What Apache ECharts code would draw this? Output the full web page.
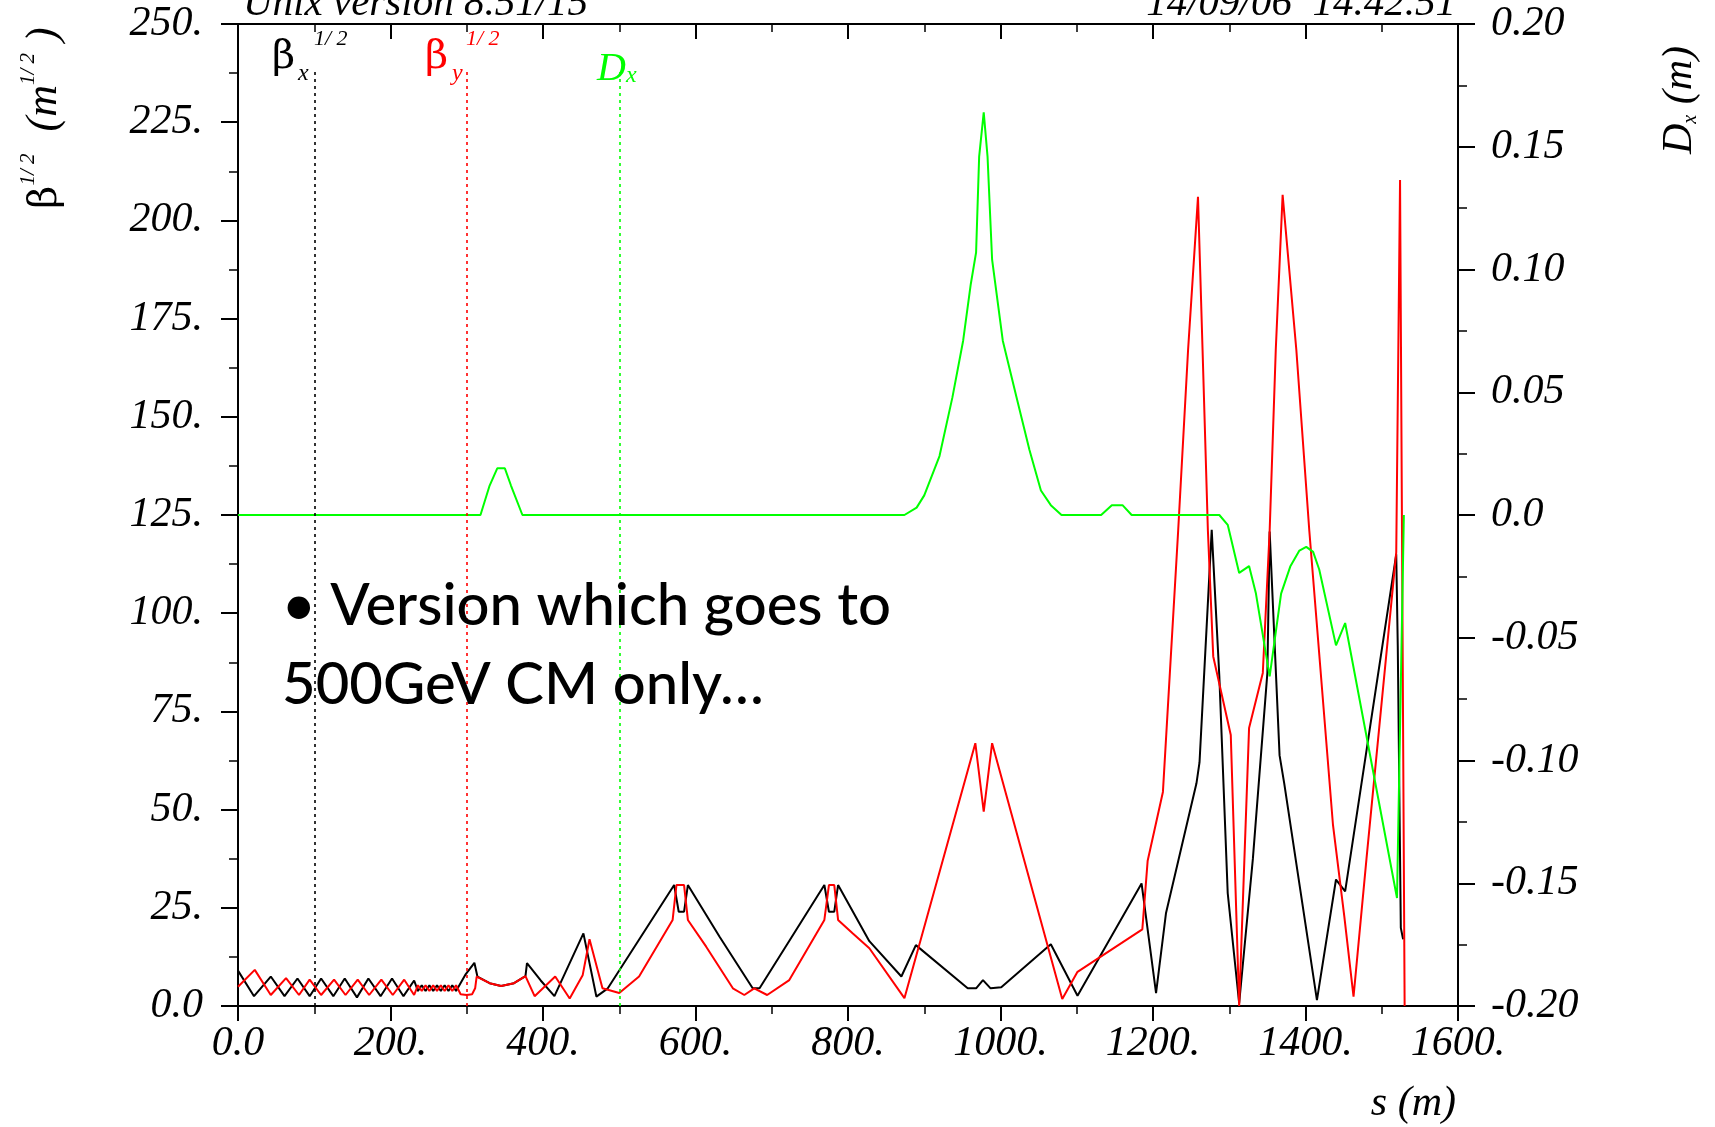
<!DOCTYPE html>
<html>
<head>
<meta charset="utf-8">
<title>beta / dispersion</title>
<script src="https://cdn.jsdelivr.net/npm/echarts@6/dist/echarts.min.js"></script>
<style>
html, body { margin: 0; padding: 0; background: #fff; }
#main { width: 1715px; height: 1127px; }
</style>
</head>
<body>
<div id="main"></div>
<script>
// beta_x^(1/2) (black)
var sBetaX = [0, 21, 43, 61, 78, 94, 109, 125, 140, 156, 171, 187, 202, 217, 231, 236, 241, 246, 251, 256,
	261, 266, 271, 276, 281, 286, 298, 310, 314, 330, 345, 362, 377, 379, 397, 415, 453, 470, 485, 528,
	572, 578, 585, 590, 632, 675, 684, 726, 769, 775, 782, 787, 828, 870, 889, 957, 968, 977, 987, 1001,
	1066, 1101, 1185, 1204, 1217, 1257, 1261, 1277, 1287, 1298, 1313, 1331, 1350, 1353, 1366, 1372, 1415, 1440, 1452, 1519,
	1521, 1525, 1528];
var betaX = [9.0, 2.5, 7.5, 2.5, 7.0, 2.5, 7.0, 2.5, 7.0, 2.2, 7.0, 2.5, 7.0, 2.5, 6.5, 3.8, 5.3, 3.8, 5.3, 3.8,
	5.3, 3.8, 5.3, 3.8, 5.3, 3.8, 7.9, 11.0, 7.5, 5.8, 5.1, 5.8, 7.6, 10.9, 6.5, 2.5, 18.5, 2.4, 4.5, 17.5,
	30.8, 24.0, 24.0, 30.8, 17.5, 4.5, 4.5, 17.5, 30.8, 24.0, 24.0, 30.8, 16.5, 7.5, 15.5, 4.5, 4.5, 6.6, 4.5, 4.8,
	15.7, 2.6, 31.2, 3.3, 23.6, 56.7, 62.0, 121.2, 83.9, 28.7, 0.7, 37.5, 84.8, 120.8, 63.8, 56.8, 1.5, 32.2, 29.2, 115.0,
	91.8, 19.9, 17.0];

// beta_y^(1/2) (red)
var sBetaY = [0, 22, 43, 63, 80, 94, 109, 126, 141, 157, 172, 188, 203, 218, 231, 236, 241, 246, 251, 256,
	261, 266, 271, 276, 281, 286, 292, 300, 307, 311, 313, 330, 345, 362, 377, 389, 416, 435, 452, 461,
	478, 500, 526, 570, 575, 585, 590, 614, 649, 664, 677, 694, 723, 769, 775, 782, 787, 806, 828, 874,
	967, 978, 989, 1081, 1101, 1186, 1193, 1213, 1233, 1246, 1259, 1265, 1272, 1279, 1302, 1313, 1326, 1344, 1353, 1361,
	1370, 1388, 1405, 1436, 1451, 1463, 1480, 1519, 1524, 1530];
var betaY = [4.9, 9.2, 2.8, 7.1, 2.8, 6.7, 2.8, 6.7, 2.8, 6.7, 2.8, 6.7, 2.8, 6.7, 2.8, 5.3, 3.8, 5.3, 3.8, 5.3,
	3.8, 5.3, 3.8, 5.3, 3.8, 5.3, 3.0, 2.8, 3.0, 4.5, 7.5, 5.8, 5.1, 5.8, 7.6, 2.5, 7.5, 1.9, 7.8, 17.0,
	4.5, 3.3, 7.5, 21.9, 30.8, 30.8, 21.9, 15.1, 4.5, 2.8, 4.5, 2.8, 6.6, 21.9, 30.8, 30.8, 21.9, 18.5, 14.7, 2.0,
	66.9, 49.5, 66.9, 1.8, 8.7, 19.5, 37.0, 54.5, 121.0, 167.0, 206.0, 167.0, 121.0, 89.0, 69.0, 0.0, 70.8, 84.8, 121.0, 167.0,
	206.5, 167.0, 121.0, 46.2, 22.6, 2.4, 37.5, 115.5, 210.3, 0.0];

// D_x (green, right axis)
var sDx = [0, 318, 330, 340, 350, 358, 373, 874, 890, 900, 920, 937, 951, 961, 968, 972, 978, 983, 989, 1003,
	1021, 1038, 1053, 1066, 1080, 1132, 1146, 1160, 1172, 1287, 1298, 1313, 1326, 1335, 1353, 1368, 1380, 1392, 1401, 1410,
	1418, 1440, 1452, 1520, 1529];
var dispX = [0, 0, 0.012, 0.019, 0.019, 0.012, 0, 0, 0.003, 0.008, 0.024, 0.048, 0.071, 0.094, 0.107, 0.146, 0.164, 0.146, 0.104, 0.071,
	0.048, 0.0265, 0.010, 0.004, 0, 0, 0.004, 0.004, 0, 0, -0.004, -0.0236, -0.0208, -0.032, -0.0657, -0.032, -0.021, -0.0145, -0.013, -0.015,
	-0.0222, -0.0531, -0.044, -0.156, 0];

var sTickLabels = ['0.0', '200.', '400.', '600.', '800.', '1000.', '1200.', '1400.', '1600.'];
var betaTickLabels = ['0.0', '25.', '50.', '75.', '100.', '125.', '150.', '175.', '200.', '225.', '250.'];
var dxTickLabels = ['-0.20', '-0.15', '-0.10', '-0.05', '0.0', '0.05', '0.10', '0.15', '0.20'];

// legend markers (dotted lines) position in s, and their top in beta units
var keyS = [100, 300, 500];
var keyTop = 237.8;

var COLOR_X = '#000000';
var COLOR_Y = '#ff0000';
var COLOR_D = '#00ff00';
var SERIF = '"Liberation Serif", "Times New Roman", serif';
var GREEK = '"DejaVu Serif", "Liberation Serif", serif';

var myChart;
var option = {};

function pairs(s, v) {
	var out = [];
	for (var i = 0; i < s.length; i++) {
		out.push([s[i], v[i]]);
	}
	return out;
}

function tickFont() {
	return { color: '#000', fontFamily: SERIF, fontStyle: 'italic', fontSize: 42 };
}

function makeXAxis(position, inside, showLabel) {
	var label = tickFont();
	label.show = showLabel;
	label.margin = 17;
	label.formatter = function(v) { return sTickLabels[Math.round(v / 200)]; };
	return {
		type: 'value', position: position, min: 0, max: 1600, interval: 200,
		axisLine: { show: true, onZero: false, lineStyle: { color: '#000', width: 2 } },
		axisTick: { show: true, inside: inside, length: 15, lineStyle: { color: '#000', width: 2 } },
		minorTick: { show: true, splitNumber: 2, length: 8, lineStyle: { color: '#000', width: 1.5 } },
		splitLine: { show: false },
		axisLabel: label
	};
}

function makeYAxis(position, min, max, interval, labels) {
	var label = tickFont();
	label.margin = position == 'left' ? 35 : 33;
	label.formatter = function(v) { return labels[Math.round((v - min) / interval)]; };
	return {
		type: 'value', position: position, min: min, max: max, interval: interval,
		axisLine: { show: true, onZero: false, lineStyle: { color: '#000', width: 2 } },
		axisTick: { show: true, inside: false, length: 17, lineStyle: { color: '#000', width: 2 } },
		minorTick: { show: true, splitNumber: 2, length: 9, lineStyle: { color: '#000', width: 1.5 } },
		splitLine: { show: false },
		axisLabel: label
	};
}

function txt(x, y, text, size, italic, color, align, family) {
	return {
		type: 'text', x: x, y: y, silent: true,
		style: {
			text: text, fill: color || '#000', fontFamily: family || SERIF, fontSize: size,
			fontStyle: italic ? 'italic' : 'normal',
			align: align || 'left', verticalAlign: 'middle'
		}
	};
}

function keyMarker(i, color) {
	return [
		{ coord: [keyS[i], 0], lineStyle: { color: color } },
		{ coord: [keyS[i], keyTop] }
	];
}

// plot frame: the axis lines run a little past the corners
function frameLine(x1, y1, x2, y2) {
	return {
		type: 'line', silent: true,
		shape: { x1: x1, y1: y1, x2: x2, y2: y2 },
		style: { stroke: '#000', lineWidth: 2 }
	};
}

function initECharts() {
	myChart = echarts.init(document.getElementById('main'), null, { renderer: 'canvas' });

	var graphics = [
		frameLine(222, 1006, 238, 1006),
		frameLine(222, 24, 238, 24),
		frameLine(1458, 1006, 1458, 1021),
		frameLine(1458, 24, 1474, 24),
		// header
		txt(243, 4, 'Unix version 8.51/15', 41, true),
		txt(1456, 4, '14/09/06  14.42.51', 41, true, '#000', 'right'),
		// legend labels
		txt(272, 58, 'β', 40, false, COLOR_X, 'left', GREEK),
		txt(298, 74, 'x', 24, true, COLOR_X),
		txt(314, 39, '1/ 2', 22, true, COLOR_X),
		txt(425, 58, 'β', 40, false, COLOR_Y, 'left', GREEK),
		txt(452, 74, 'y', 24, true, COLOR_Y),
		txt(466, 39, '1/ 2', 22, true, COLOR_Y),
		txt(597, 69, 'D', 40, true, COLOR_D),
		txt(626, 76, 'x', 24, true, COLOR_D),
		// axis names
		{
			type: 'text', x: 42, y: 118, rotation: Math.PI / 2, silent: true,
			style: {
				text: '{g|β}{s|1/ 2}{t|  (m}{s|1/ 2}{t| )}', align: 'center', verticalAlign: 'middle',
				rich: {
					g: { fontFamily: GREEK, fontSize: 40, verticalAlign: 'bottom', lineHeight: 48, fill: '#000' },
					s: { fontFamily: SERIF, fontStyle: 'italic', fontSize: 21, verticalAlign: 'top', lineHeight: 48, fill: '#000' },
					t: { fontFamily: SERIF, fontStyle: 'italic', fontSize: 44, verticalAlign: 'bottom', lineHeight: 48, fill: '#000' }
				}
			}
		},
		{
			type: 'text', x: 1678, y: 100, rotation: Math.PI / 2, silent: true,
			style: {
				text: '{t|D}{b|x}{t| (m)}', align: 'center', verticalAlign: 'middle',
				rich: {
					t: { fontFamily: SERIF, fontStyle: 'italic', fontSize: 42, verticalAlign: 'bottom', lineHeight: 46, fill: '#000' },
					b: { fontFamily: SERIF, fontStyle: 'italic', fontSize: 20, verticalAlign: 'bottom', lineHeight: 46, fill: '#000' }
				}
			}
		},
		txt(1456, 1104, 's (m)', 42, true, '#000', 'right'),
		// note on the plot
		{
			type: 'text', x: 282, y: 567, silent: true, z: 100,
			style: {
				text: '\u2022 Version which goes to\n500GeV CM only\u2026',
				fill: '#000', fontFamily: 'Lato, "Open Sans", sans-serif', fontSize: 58,
				fontWeight: 500, lineHeight: 79, align: 'left', verticalAlign: 'top'
			}
		}
	];

	option = {
		backgroundColor: '#ffffff',
		animation: false,
		grid: { left: 238, right: 257, top: 24, bottom: 121, containLabel: false },
		xAxis: [makeXAxis('bottom', false, true), makeXAxis('top', true, false)],
		yAxis: [
			makeYAxis('left', 0, 250, 25, betaTickLabels),
			makeYAxis('right', -0.2, 0.2, 0.05, dxTickLabels)
		],
		series: [{
			name: 'betaX', type: 'line', xAxisIndex: 0, yAxisIndex: 0,
			data: pairs(sBetaX, betaX), symbol: 'none',
			lineStyle: { color: COLOR_X, width: 2 },
			markLine: {
				silent: true, symbol: 'none', animation: false,
				label: { show: false },
				lineStyle: { type: [3, 4], width: 1.6 },
				data: [keyMarker(0, COLOR_X), keyMarker(1, COLOR_Y), keyMarker(2, COLOR_D)]
			}
		}, {
			name: 'betaY', type: 'line', xAxisIndex: 0, yAxisIndex: 0,
			data: pairs(sBetaY, betaY), symbol: 'none',
			lineStyle: { color: COLOR_Y, width: 2 }
		}, {
			name: 'Dx', type: 'line', xAxisIndex: 0, yAxisIndex: 1,
			data: pairs(sDx, dispX), symbol: 'none',
			lineStyle: { color: COLOR_D, width: 2 }
		}],
		graphic: graphics
	};
	myChart.setOption(option);
}

initECharts();
</script>
</body>
</html>
